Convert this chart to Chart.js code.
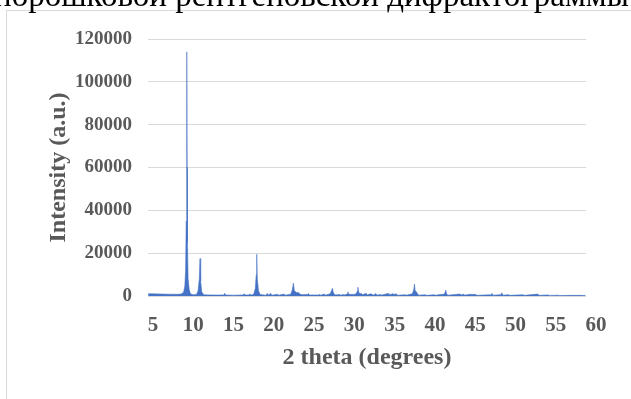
<!DOCTYPE html>
<html>
<head>
<meta charset="utf-8">
<script src="https://cdn.jsdelivr.net/npm/chart.js@4"></script>
<style>
  html, body { margin: 0; padding: 0; background: #fff; overflow: hidden; }
  body { width: 631px; height: 399px; position: relative; }
  .heading {
    position: absolute; left: -6px; top: -21px; white-space: nowrap;
    font: 33px "Liberation Serif", serif; line-height: 33px; color: #000; z-index: 2;
  }
  .frame {
    position: absolute; left: 6px; top: 10px; width: 700px; height: 500px;
    border: 1px solid #d9d9d9; background: #fff;
  }
  .wrap { position: absolute; left: 0; top: 0; width: 631px; height: 399px; z-index: 1; }
</style>
</head>
<body>
<div class="heading">порошковой рентгеновской дифрактограммы</div>
<div class="frame"></div>
<div class="wrap"><canvas id="xrd"></canvas></div>
<script>
// 2 theta (градусы) и интенсивность
const twoTheta = [
  4.4, 5.0, 6.0, 7.0, 8.0, 8.5, 8.8, 8.95, 9.05, 9.12, 9.17, 9.19, 9.20, 9.22, 9.24, 9.28, 9.36, 9.5, 9.65,
  10.0, 10.4, 10.6, 10.75, 10.84, 10.92, 11.05, 11.3, 12.0, 13.0, 13.8, 13.9, 14.0, 15.0,
  16.2, 16.3, 16.5, 16.9, 17.0, 17.2, 17.5, 17.7, 17.82, 17.88, 17.95, 18.1, 18.3,
  19.0, 19.2, 19.35, 19.6, 19.75, 20.5, 20.6, 21.3, 21.4,
  22.1, 22.3, 22.43, 22.55, 22.7, 22.85, 23.0, 23.2, 23.5, 24.2, 24.3, 24.4,
  25.6, 25.7, 25.8, 26.3, 26.4, 27.0, 27.2, 27.28, 27.4, 27.6, 28.2, 28.3, 28.6, 28.7,
  29.1, 29.2, 29.3, 30.0, 30.1, 30.2, 30.35, 30.43, 30.55, 30.7, 30.9, 31.0, 31.3, 31.5, 31.6,
  32.0, 32.2, 32.4, 32.67, 32.8, 33.2, 33.3, 34.2, 34.3, 34.8, 34.9, 35.2, 35.35, 36.3, 36.4,
  37.2, 37.38, 37.46, 37.55, 37.7, 37.85, 38.0, 38.8, 38.9, 40.0, 40.1, 40.6, 40.9,
  41.2, 41.36, 41.45, 41.6, 43.1, 43.3, 43.5, 43.6, 44.4, 44.7, 45.0, 45.1,
  47.0, 47.07, 47.2, 48.2, 48.3, 48.45, 49.1, 49.2, 50.96, 51.1, 52.8, 52.9,
  54.1, 54.2, 55.3, 55.4, 56.8, 57.7, 58.2, 58.7
];
const intensity = [
  1100, 1000, 900, 850, 800, 900, 1800, 4500, 12000, 35000, 56000, 80000, 86000, 114000, 60000, 25000, 8000, 3000, 1000,
  600, 700, 2500, 8000, 17500, 7000, 2000, 600, 500, 450, 500, 1300, 500, 400,
  500, 1000, 500, 500, 900, 500, 800, 3500, 10000, 19500, 8000, 2500, 700,
  400, 1200, 400, 1300, 400, 800, 400, 900, 400,
  800, 3000, 6000, 2500, 2000, 1500, 1800, 1000, 600, 700, 1200, 500,
  500, 800, 400, 900, 400, 1000, 2800, 3600, 1500, 500, 700, 400, 700, 400,
  900, 2000, 800, 700, 1100, 700, 2200, 4100, 1800, 1000, 1200, 600, 1000, 1200, 500,
  1000, 800, 400, 1200, 400, 700, 400, 1200, 500, 1100, 500, 1100, 400, 600, 300,
  1000, 3000, 5600, 2500, 2000, 1000, 400, 600, 300, 600, 300, 700, 700,
  1000, 2700, 1000, 400, 900, 500, 900, 300, 800, 700, 800, 300,
  600, 1300, 400, 600, 1500, 400, 600, 300, 600, 300, 900, 300,
  500, 250, 400, 200, 300, 300, 300, 200
];
const xTicks = [5, 10, 15, 20, 25, 30, 35, 40, 45, 50, 55, 60];
const yMax = 120000;
const yStep = 20000;

const points = twoTheta.map((t, i) => ({ x: t, y: intensity[i] }));
const grey = '#595959';

new Chart(document.getElementById('xrd'), {
  type: 'line',
  data: {
    datasets: [{
      data: points,
      borderColor: 'rgba(68, 114, 196, 0.8)',
      backgroundColor: '#4472c4',
      borderWidth: 0.7,
      pointRadius: 0,
      tension: 0,
      fill: 'origin'
    }]
  },
  options: {
    responsive: true,
    maintainAspectRatio: false,
    animation: false,
    layout: { padding: { left: 0, top: 39, right: 45, bottom: 27 } },
    plugins: { legend: { display: false }, tooltip: { enabled: false } },
    scales: {
      x: {
        type: 'linear',
        min: 4.38,
        max: 58.76,
        afterBuildTicks: scale => { scale.ticks = xTicks.map(v => ({ value: v })); },
        afterFit: scale => { scale.height = 76; },
        grid: { display: false },
        border: { display: false },
        ticks: {
          autoSkip: false, maxRotation: 0, padding: 9, color: grey,
          font: { family: 'Liberation Serif', size: 21, weight: 'bold' }
        },
        title: {
          display: true, text: '2 theta (degrees)', color: grey,
          padding: { top: 12, bottom: 0 },
          font: { family: 'Liberation Serif', size: 24, weight: 'bold' }
        }
      },
      y: {
        min: 0,
        max: yMax,
        afterFit: scale => { scale.width = 148; },
        grid: { color: '#d9d9d9', lineWidth: 1, drawTicks: false },
        border: { display: false },
        ticks: {
          stepSize: yStep, padding: 16, color: grey,
          callback: v => String(v),
          font: { family: 'Liberation Serif', size: 19, weight: 'bold' }
        },
        title: {
          display: true, text: 'Intensity (a.u.)', color: grey,
          padding: { top: 44, bottom: 0 },
          font: { family: 'Liberation Serif', size: 24, weight: 'bold' }
        }
      }
    }
  }
});
</script>
</body>
</html>
